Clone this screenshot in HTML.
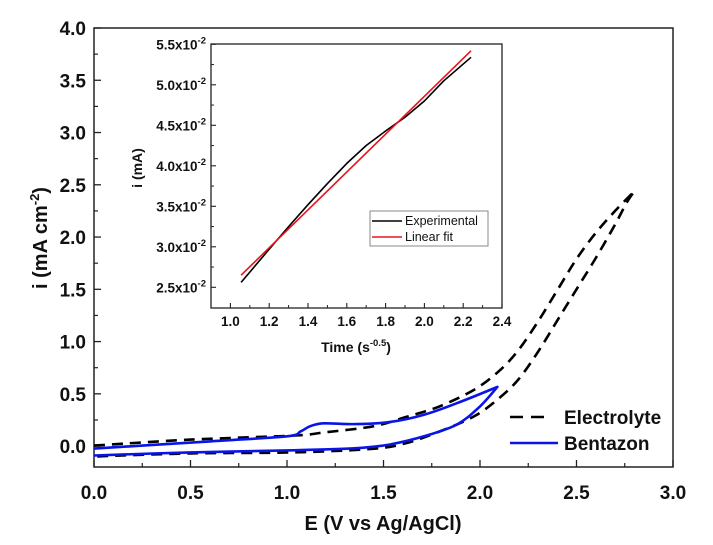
<!DOCTYPE html>
<html><head><meta charset="utf-8">
<style>
html,body{margin:0;padding:0;background:#fff;}
svg{display:block;font-family:"Liberation Sans",Arial,sans-serif;}
</style></head>
<body>
<svg id="chart" width="713" height="545" viewBox="0 0 713 545" xmlns="http://www.w3.org/2000/svg"></svg>
<script>
// ---- main chart data ----
const xTicks = [0.0, 0.5, 1.0, 1.5, 2.0, 2.5, 3.0];
const xTickLabels = ["0.0","0.5","1.0","1.5","2.0","2.5","3.0"];
const yTicks = [0.0, 0.5, 1.0, 1.5, 2.0, 2.5, 3.0, 3.5, 4.0];
const yTickLabels = ["0.0","0.5","1.0","1.5","2.0","2.5","3.0","3.5","4.0"];
const electrolyteE = [0.0, 0.5, 1.03, 1.19, 1.45, 1.62, 1.79, 1.97, 2.1, 2.2, 2.3, 2.4, 2.5, 2.6, 2.7, 2.80, 2.76, 2.7, 2.6, 2.5, 2.4, 2.3, 2.2, 2.1, 1.97, 1.79, 1.62, 1.45, 1.03, 0.5, 0.0];
const electrolyteI = [0.005, 0.062, 0.10, 0.13, 0.19, 0.28, 0.38, 0.54, 0.72, 0.92, 1.19, 1.49, 1.79, 2.04, 2.25, 2.44, 2.33, 2.12, 1.80, 1.50, 1.20, 0.90, 0.64, 0.46, 0.285, 0.14, 0.03, -0.025, -0.06, -0.07, -0.10];
const bentazonE = [0.0, 0.6, 1.0, 1.07, 1.12, 1.19, 1.36, 1.53, 1.71, 1.88, 2.09, 2.0, 1.88, 1.71, 1.53, 1.36, 1.03, 0.5, 0.0];
const bentazonI = [-0.024, 0.045, 0.094, 0.14, 0.19, 0.218, 0.21, 0.23, 0.30, 0.41, 0.566, 0.38, 0.206, 0.094, 0.014, -0.02, -0.04, -0.06, -0.09];
// ---- inset data ----
const inXTicks = [1.0, 1.2, 1.4, 1.6, 1.8, 2.0, 2.2, 2.4];
const inXTickLabels = ["1.0","1.2","1.4","1.6","1.8","2.0","2.2","2.4"];
const inYTicks = [0.025, 0.030, 0.035, 0.040, 0.045, 0.050, 0.055];
const inYTickLabels = ["2.5","3.0","3.5","4.0","4.5","5.0","5.5"];
const expX = [1.055, 1.2, 1.3, 1.4, 1.5, 1.6, 1.7, 1.8, 1.9, 2.0, 2.1, 2.24];
const expY = [0.0256, 0.0297, 0.0325, 0.0352, 0.0378, 0.0403, 0.0425, 0.0443, 0.0460, 0.0480, 0.0505, 0.0534];
const fitX = [1.055, 2.24];
const fitY = [0.0265, 0.0542];

const NS = "http://www.w3.org/2000/svg";
const svg = document.getElementById('chart');
function mk(tag, attrs, parent){const e=document.createElementNS(NS,tag);for(const k in attrs)e.setAttribute(k,attrs[k]);(parent||svg).appendChild(e);return e;}

// main axes
const X0=94,X1=673,Y0=467,Y1=28, xmin=0,xmax=3,ymin=-0.2,ymax=4.0;
const sx=v=>X0+(v-xmin)/(xmax-xmin)*(X1-X0);
const sy=v=>Y0-(v-ymin)/(ymax-ymin)*(Y0-Y1);

const frame=mk('rect',{x:X0,y:Y1,width:X1-X0,height:Y0-Y1,fill:'none',stroke:'#222','stroke-width':1.5});



for(let i=0;i<xTicks.length;i++){
  const x=sx(xTicks[i]);
  const t=mk('line',{x1:x,x2:x,y1:Y0,y2:Y0-7,stroke:'#222','stroke-width':1.3});
  
  
  if(i<xTicks.length-1){const xm=sx(xTicks[i]+0.25);const m=mk('line',{x1:xm,x2:xm,y1:Y0,y2:Y0-4,stroke:'#222','stroke-width':1.2});
  
  }
  const l=mk('text',{x:x,y:Y0+32,'text-anchor':'middle','font-size':19,'font-weight':'bold',fill:'#111'});
  l.textContent=xTickLabels[i];
  
  
}
for(let i=0;i<yTicks.length;i++){
  const y=sy(yTicks[i]);
  const t=mk('line',{x1:X0,x2:X0+7,y1:y,y2:y,stroke:'#222','stroke-width':1.3});
  
  
  if(i<yTicks.length-1){const ym=sy(yTicks[i]+0.25);const m=mk('line',{x1:X0,x2:X0+4,y1:ym,y2:ym,stroke:'#222','stroke-width':1.2});
  
  }
  const l=mk('text',{x:X0-8,y:y+7,'text-anchor':'end','font-size':19,'font-weight':'bold',fill:'#111'});
  l.textContent=yTickLabels[i];
  
  
}
const xt=mk('text',{x:383,y:530,'text-anchor':'middle','font-size':20,'font-weight':'bold',fill:'#111'});
xt.textContent='E (V vs Ag/AgCl)';


const yt=mk('text',{x:0,y:0,'text-anchor':'middle','font-size':20,'font-weight':'bold',fill:'#111',transform:'translate(47,238) rotate(-90)'});
yt.innerHTML='i (mA cm<tspan dy="-8" font-size="13">-2</tspan><tspan dy="8">)</tspan>';



function pathOf(xs,ys,fx,fy){return xs.map((v,i)=>(i?'L':'M')+fx(v).toFixed(1)+','+fy(ys[i]).toFixed(1)).join(' ');}
// smooth Catmull-Rom path, with a sharp corner at index `corner`
function smoothOf(xs,ys,fx,fy,corner){
  const P=xs.map((v,i)=>[fx(v),fy(ys[i])]);
  function seg(a,b){
    const pts=P.slice(a,b+1);let d='';
    for(let i=0;i<pts.length-1;i++){
      const p0=pts[i-1]||pts[i],p1=pts[i],p2=pts[i+1],p3=pts[i+2]||pts[i+1];
      const c1=[p1[0]+(p2[0]-p0[0])/6,p1[1]+(p2[1]-p0[1])/6];
      const c2=[p2[0]-(p3[0]-p1[0])/6,p2[1]-(p3[1]-p1[1])/6];
      d+=' C'+c1[0].toFixed(1)+','+c1[1].toFixed(1)+' '+c2[0].toFixed(1)+','+c2[1].toFixed(1)+' '+p2[0].toFixed(1)+','+p2[1].toFixed(1);
    }
    return d;
  }
  return 'M'+P[0][0].toFixed(1)+','+P[0][1].toFixed(1)+seg(0,corner)+seg(corner,P.length-1);
}
function argmaxE(arr){let k=0;for(let i=1;i<arr.length;i++)if(arr[i]>arr[k])k=i;return k;}
const pe=mk('path',{d:smoothOf(electrolyteE,electrolyteI,sx,sy,argmaxE(electrolyteE)),fill:'none',stroke:'#000','stroke-width':2.6,'stroke-dasharray':'11,7','stroke-linejoin':'round'});


const pb=mk('path',{d:smoothOf(bentazonE,bentazonI,sx,sy,argmaxE(bentazonE)),fill:'none',stroke:'#0a14e6','stroke-width':2.6,'stroke-linejoin':'round'});



// main legend
const lg=mk('g',{});


const l1=mk('line',{x1:510,x2:552,y1:417,y2:417,stroke:'#000','stroke-width':2.6,'stroke-dasharray':'13,8'},lg);


const t1=mk('text',{x:564,y:424,'font-size':19,'font-weight':'bold',fill:'#111'},lg);t1.textContent='Electrolyte';


const l2=mk('line',{x1:510,x2:558,y1:443,y2:443,stroke:'#0a14e6','stroke-width':2.6},lg);


const t2=mk('text',{x:564,y:450,'font-size':19,'font-weight':'bold',fill:'#111'},lg);t2.textContent='Bentazon';



// inset
const IX0=211,IX1=502,IY0=308,IY1=44, ixmin=0.9,ixmax=2.4;
const isx=v=>IX0+(v-ixmin)/(ixmax-ixmin)*(IX1-IX0);
const isy=v=>287.3-(v-0.025)/0.005*40.5;
const inset=mk('g',{});


const ib=mk('rect',{x:IX0,y:IY1,width:IX1-IX0,height:IY0-IY1,fill:'#fff',stroke:'#222','stroke-width':1.3},inset);


for(let i=0;i<inXTicks.length;i++){
  const x=isx(inXTicks[i]);
  const t=mk('line',{x1:x,x2:x,y1:IY0,y2:IY0-5,stroke:'#222','stroke-width':1.1},inset);
  
  
  const xm=isx(inXTicks[i]-0.1);const m=mk('line',{x1:xm,x2:xm,y1:IY0,y2:IY0-3,stroke:'#222','stroke-width':1},inset);
  
  
  const l=mk('text',{x:x,y:IY0+18,'text-anchor':'middle','font-size':13.5,'font-weight':'bold',fill:'#111'},inset);
  l.textContent=inXTickLabels[i];
  
  
}
for(let i=0;i<inYTicks.length;i++){
  const y=isy(inYTicks[i]);
  const t=mk('line',{x1:IX0,x2:IX0+5,y1:y,y2:y,stroke:'#222','stroke-width':1.1},inset);
  
  
  const ym=isy(inYTicks[i]+0.0025);
  if(ym>IY1){const m=mk('line',{x1:IX0,x2:IX0+3,y1:ym,y2:ym,stroke:'#222','stroke-width':1},inset);
  
  }
  const l=mk('text',{x:IX0-5,y:y+5,'text-anchor':'end','font-size':13.5,'font-weight':'bold',fill:'#111'},inset);
  l.innerHTML=inYTickLabels[i]+'x10<tspan dy="-6" font-size="9.5">-2</tspan>';
  
  
}
const ixt=mk('text',{x:356,y:352,'text-anchor':'middle','font-size':14,'font-weight':'bold',fill:'#111'},inset);
ixt.innerHTML='Time (s<tspan dy="-6" font-size="9.5">-0.5</tspan><tspan dy="6">)</tspan>';


const iyt=mk('text',{x:0,y:0,'text-anchor':'middle','font-size':14,'font-weight':'bold',fill:'#111',transform:'translate(142,168) rotate(-90)'},inset);
iyt.textContent='i (mA)';


const pexp=mk('path',{d:pathOf(expX,expY,isx,isy),fill:'none',stroke:'#000','stroke-width':1.6,'stroke-linejoin':'round'},inset);


const pfit=mk('path',{d:pathOf(fitX,fitY,isx,isy),fill:'none',stroke:'#e8141e','stroke-width':1.6},inset);


const ilg=mk('g',{},inset);


const ilr=mk('rect',{x:370,y:211,width:118,height:35,fill:'#fff',stroke:'#888','stroke-width':1},ilg);


const il1=mk('line',{x1:372,x2:402,y1:221,y2:221,stroke:'#000','stroke-width':1.6},ilg);


const it1=mk('text',{x:405,y:225,'font-size':12.5,fill:'#111'},ilg);it1.textContent='Experimental';


const il2=mk('line',{x1:372,x2:402,y1:237,y2:237,stroke:'#e8141e','stroke-width':1.6},ilg);


const it2=mk('text',{x:405,y:241,'font-size':12.5,fill:'#111'},ilg);it2.textContent='Linear fit';


</script>
</body></html>
